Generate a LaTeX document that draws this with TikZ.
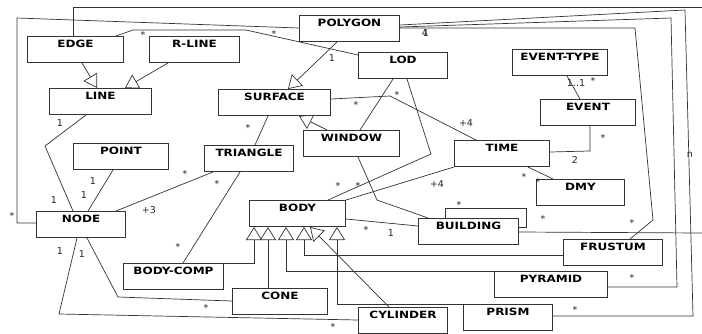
\documentclass[tikz,border=0pt]{standalone}
\usepackage{fontspec}
\setmainfont{DejaVu Sans}
\newfontfamily\boxfont[FakeStretch=1.2]{DejaVu Sans Bold}
\usetikzlibrary{arrows.meta,calc,backgrounds}
\tikzset{
  cls/.style={draw=black!80, line width=1pt, fill=white, anchor=north west,
    inner sep=0pt, text height=11pt, text depth=15pt,
    font=\boxfont\fontsize{10}{12}\selectfont},
  conn/.style={draw=black!80, line width=0.7pt},
  inh/.style={conn, -{Triangle[fill=white, length=13pt, width=16pt]}},
  lbl/.style={inner sep=0pt, font=\fontsize{9.5}{11}\selectfont, text=black!85}
}
\begin{document}
\begin{tikzpicture}[x=1pt,y=-1pt]
\useasboundingbox (0,0) rectangle (702,333);
% classes
\node[cls, minimum width=96pt] (nedge) at (27,36) {EDGE};
\node[cls, minimum width=90pt] (nrline) at (149,36) {R-LINE};
\node[cls, minimum width=100pt] (npolygon) at (299,15) {POLYGON};
\node[cls, minimum width=89pt] (nlod) at (358,52) {LOD};
\node[cls, minimum width=95pt] (neventtype) at (512,49) {EVENT-TYPE};
\node[cls, minimum width=102pt] (nline) at (49,88) {LINE};
\node[cls, minimum width=112pt] (nsurface) at (218,89) {SURFACE};
\node[cls, minimum width=95pt] (nevent) at (540,99) {EVENT};
\node[cls, minimum width=96pt] (nwindow) at (303,130) {WINDOW};
\node[cls, minimum width=95pt] (npoint) at (73,143) {POINT};
\node[cls, minimum width=89pt] (ntriangle) at (204,145) {TRIANGLE};
\node[cls, minimum width=95pt] (ntime) at (454,140) {TIME};
\node[cls, minimum width=88pt] (ndmy) at (536,179) {DMY};
\node[cls, minimum width=89pt] (nnode) at (36,211) {NODE};
\node[cls, minimum width=96pt] (nbody) at (249,200) {BODY};
\node[cls, minimum width=100pt] (nbuilding) at (418,218) {BUILDING};
\node[cls, minimum width=99pt] (nfrustum) at (563,239) {FRUSTUM};
\node[cls, minimum width=100pt] (nbodycomp) at (123,263) {BODY-COMP};
\node[cls, minimum width=95pt] (ncone) at (232,288) {CONE};
\node[cls, minimum width=113pt] (npyramid) at (494,271) {PYRAMID};
\node[cls, minimum width=89pt] (ncylinder) at (358,307) {CYLINDER};
\node[cls, minimum width=89pt] (nprism) at (463,304) {PRISM};
\coordinate (offE) at (702,7);
\coordinate (offB) at (702,233);
\begin{pgfonlayer}{background}
% generalisations
\draw[inh] ($(nedge.south west)+(55,0)$) -- ($(nline.north west)+(48,0)$);
\draw[inh] ($(nrline.south west)+(19,0)$) -- ($(nline.north west)+(76,0)$);
\draw[inh] ($(npolygon.south west)+(38,0)$) -- ($(nsurface.north west)+(70,0)$);
\draw[inh] ($(nwindow.north west)+(24,0)$) -- ($(nsurface.south west)+(81,0)$);
\draw[inh] (nbodycomp.north east) -- (254,263) -- ($(nbody.south west)+(5,0)$);
\draw[inh] ($(ncone.north west)+(36,0)$) -- ($(nbody.south west)+(19,0)$);
\draw[inh] (npyramid.north west) -- (286,271) -- ($(nbody.south west)+(37,0)$);
\draw[inh] ($(nfrustum.north west)+(0,16)$) -- (304,255) -- ($(nbody.south west)+(55,0)$);
\draw[inh] (nprism.north west) -- (337,304) -- ($(nbody.south west)+(88,0)$);
\draw[inh] ($(ncylinder.north west)+(31,0)$) -- ($(nbody.south west)+(61,0)$);
% associations
\draw[conn] ($(nline.south west)+(37,0)$) -- (45,146) -- ($(nnode.north west)+(37,0)$);
\draw[conn] ($(npoint.south west)+(40,0)$) -- ($(nnode.north west)+(52,0)$);
\draw[conn] ($(ntriangle.south west)+(9,0)$) -- ($(nnode.north west)+(80,0)$);
\draw[conn] ($(nsurface.south west)+(50,0)$) -- ($(ntriangle.north west)+(51,0)$);
\draw[conn] ($(ntriangle.south west)+(36,0)$) -- ($(nbodycomp.north west)+(60,0)$);
\draw[conn] ($(nnode.south west)+(51,0)$) -- (118,297) -- ($(ncone.north west)+(0,13)$);
\draw[conn] ($(nnode.south west)+(41,0)$) -- (59,314) -- ($(ncylinder.north west)+(0,13)$);
\draw[conn] ($(nnode.north west)+(0,12)$) -- (17,223) -- (17,18) -- ($(npolygon.north west)+(0,13)$);
\draw[conn] ($(nedge.north west)+(46,0)$) -- (73,7) -- (offE);
\draw[conn] ($(nedge.north east)+(-8,0)$) -- (133,30) -- (246,30) -- ($(nlod.north west)+(0,3)$);
\draw[conn] ($(npolygon.north east)+(0,10)$) -- (685,10) -- (693,316) -- ($(nprism.north east)+(0,12)$);
\draw[conn] ($(npolygon.north east)+(0,12)$) -- (671,18) -- (677,287) -- ($(npyramid.north east)+(0,16)$);
\draw[conn] ($(npolygon.north east)+(0,13)$) -- (635,28) -- (653,220) -- ($(nfrustum.north west)+(67,0)$);
\draw[conn] ($(nsurface.north east)+(0,10)$) -- (390,96) -- ($(ntime.north west)+(22,0)$);
\draw[conn] ($(nlod.south west)+(35,0)$) -- ($(nwindow.north west)+(57,0)$);
\draw[conn] ($(nwindow.south west)+(55,0)$) -- (377,200) -- ($(nbuilding.north west)+(10,0)$);
\draw[conn] ($(nlod.south west)+(49,0)$) -- (431,154) -- ($(nbody.north west)+(79,0)$);
\draw[conn] (nbody.north east) -- (ntime.south west);
\draw[conn] ($(nbody.north east)+(0,19)$) -- ($(nbuilding.north west)+(0,8)$);
\draw[conn] ($(nbuilding.north west)+(27,0)$) -- (445,208) -- (526,208) -- (526,227) -- ($(nbuilding.north east)+(0,9)$);
\draw[conn] ($(nbuilding.north east)+(0,14)$) -- (offB);
\draw[conn] ($(ntime.north east)+(0,12)$) -- (590,151) -- ($(nevent.south west)+(50,0)$);
\draw[conn] ($(ntime.south west)+(74,0)$) -- ($(ndmy.north west)+(17,0)$);
\draw[conn] ($(neventtype.south west)+(55,0)$) -- ($(nevent.north west)+(40,0)$);
\end{pgfonlayer}
% multiplicities
\node[lbl] (m1) at (332,58) {1};
\node[lbl] (m2) at (60,123) {1};
\node[lbl] (m3) at (54,200) {1};
\node[lbl] (m4) at (93,181) {1};
\node[lbl] (m5) at (84,195) {1};
\node[lbl] (m6) at (185,174) {*};
\node[lbl] (m7) at (149,210) {+3};
\node[lbl] (m8) at (248,128) {*};
\node[lbl] (m9) at (217,184) {*};
\node[lbl] (m10) at (178,247) {*};
\node[lbl] (m11) at (82,254) {1};
\node[lbl] (m12) at (206,308) {*};
\node[lbl] (m13) at (60,251) {1};
\node[lbl] (m14) at (333,327) {*};
\node[lbl] (m15) at (12,216) {*};
\node[lbl] (m16) at (143,35) {*};
\node[lbl] (m17) at (274,34) {*};
\node[lbl] (m18) at (690,155) {n};
\node[lbl] (m19) at (575,310) {*};
\node[lbl] (m20) at (425,33) {4};
\node[lbl] (m21) at (426,33) {1};
\node[lbl] (m22) at (632,278) {*};
\node[lbl] (m23) at (632,223) {*};
\node[lbl] (m24) at (356,105) {*};
\node[lbl] (m25) at (397,95) {*};
\node[lbl] (m26) at (466,123) {+4};
\node[lbl] (m27) at (338,186) {*};
\node[lbl] (m28) at (358,186) {*};
\node[lbl] (m29) at (437,184) {+4};
\node[lbl] (m30) at (366,230) {*};
\node[lbl] (m31) at (391,233) {1};
\node[lbl] (m32) at (459,205) {*};
\node[lbl] (m33) at (543,219) {*};
\node[lbl] (m34) at (603,138) {*};
\node[lbl] (m35) at (575,160) {2};
\node[lbl] (m36) at (524,177) {*};
\node[lbl] (m37) at (538,182) {*};
\node[lbl] (m38) at (576,83) {1..1};
\node[lbl] (m39) at (593,81) {*};
\end{tikzpicture}
\end{document}
